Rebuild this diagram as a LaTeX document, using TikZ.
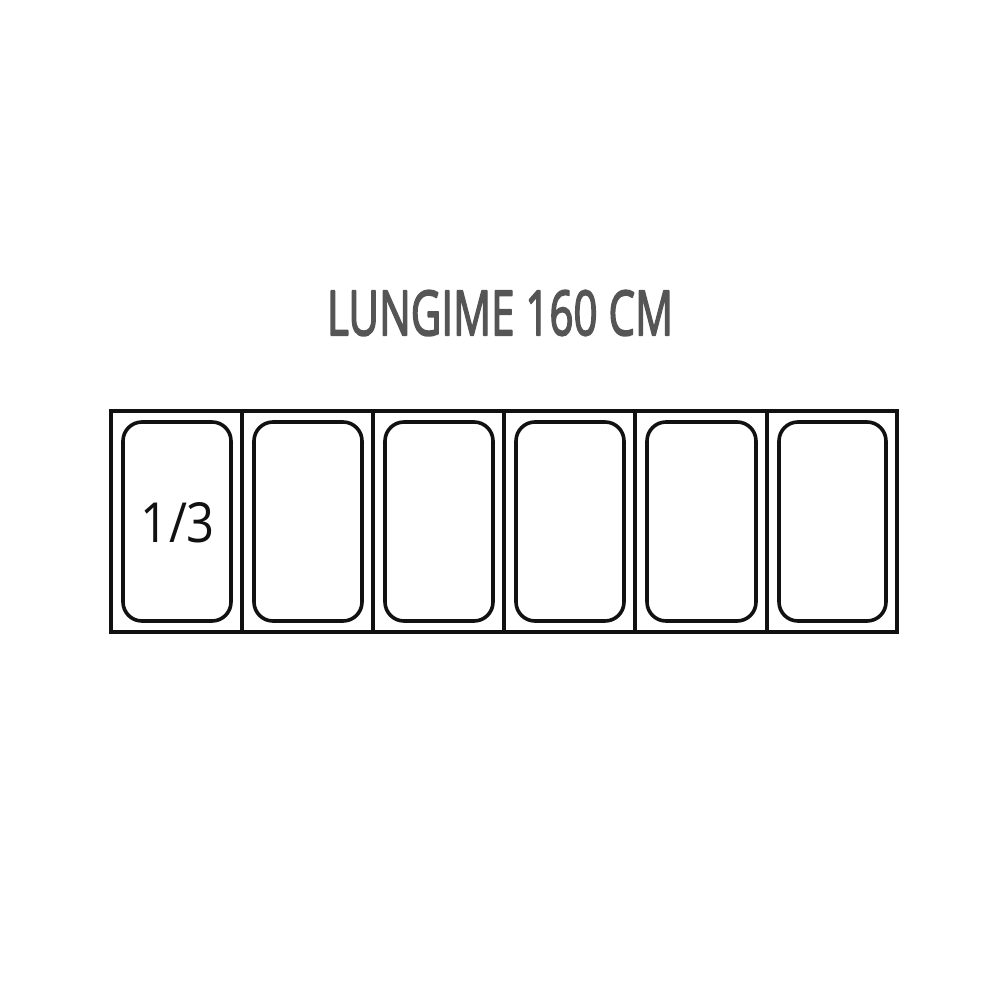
\documentclass[tikz,border=0pt]{standalone}
\usepackage{fontspec}
\setmainfont{Open Sans}
\usepackage{graphicx}
\definecolor{titlegray}{HTML}{555555}
\definecolor{ink}{HTML}{111111}
\newcommand\heavytext[1]{\special{pdf:literal direct 2 Tr 1.8 w 1 j}#1\special{pdf:literal direct 0 Tr}}
\begin{document}
\begin{tikzpicture}[x=1pt,y=-1pt,
  frame/.style={draw=ink,line width=3.6pt},
  pan/.style={draw=ink,line width=3.6pt,rounded corners=19pt},
  lbl/.style={inner sep=0pt,outer sep=0pt}]
\useasboundingbox[fill=white] (0,0) rectangle (1000,1000);
\node[lbl,text=titlegray] (title) at (500,313) {\resizebox{346pt}{45pt}{\fontsize{60}{60}\selectfont\heavytext{LUNGIME 160 CM}}};
\draw[frame] (111,411) rectangle (897,632);
\foreach \x in {242,373,504,635,767} \draw[frame] (\x,411) -- (\x,632);
\foreach \l/\r in {111/242,242/373,373/504,504/635,635/767,767/897}
  \draw[pan] (\l+12,422) rectangle (\r-11,621);
\node[lbl,text=ink] (third) at (178,523) {\resizebox{74pt}{40pt}{\fontsize{50}{50}\selectfont 1/3}};
\end{tikzpicture}
\end{document}
